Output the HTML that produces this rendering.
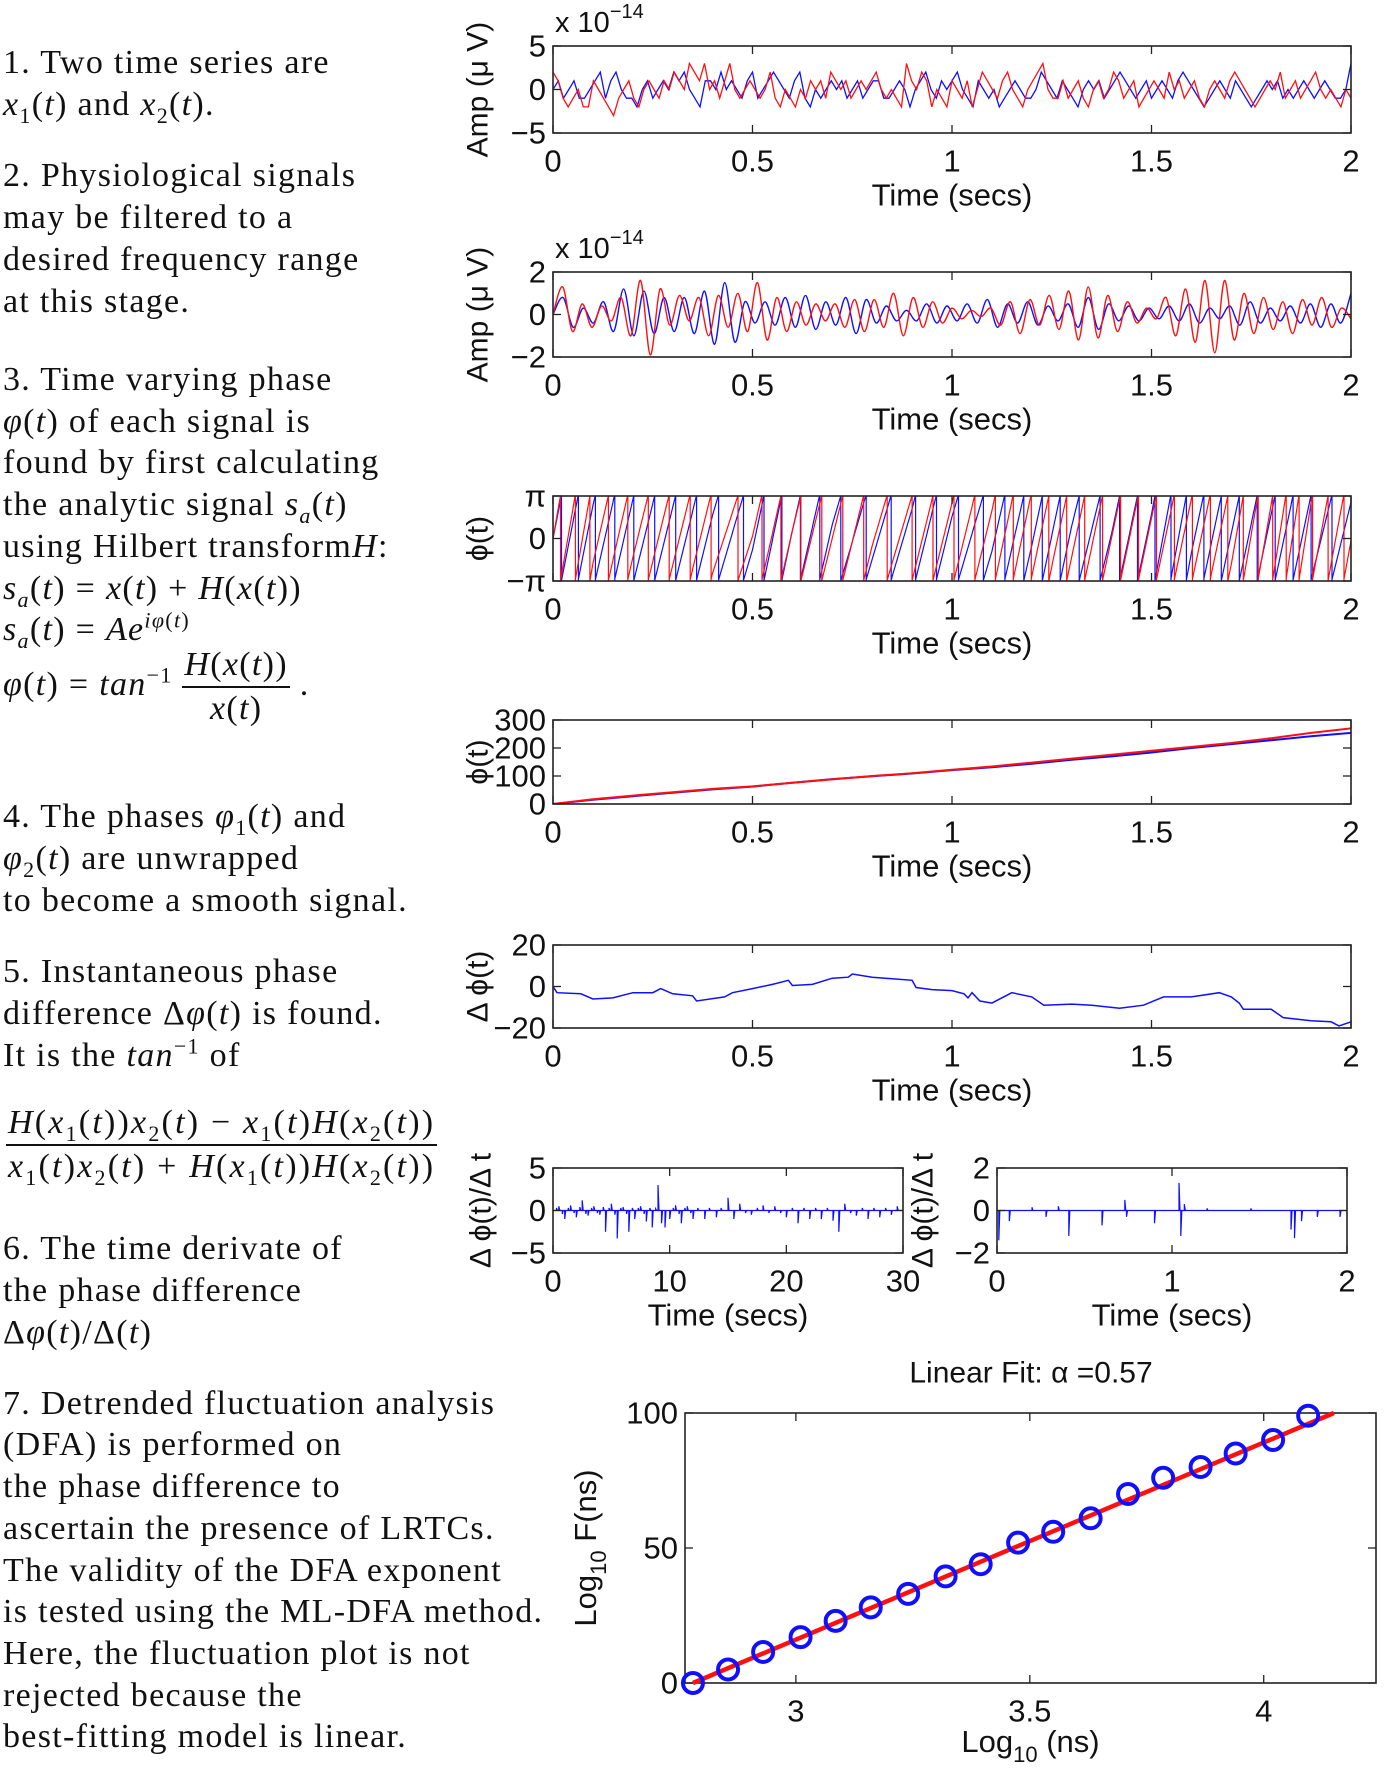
<!DOCTYPE html>
<html><head><meta charset="utf-8">
<style>
html,body{margin:0;padding:0;background:#fff;}
body{width:1384px;height:1778px;position:relative;overflow:hidden;}
.t{position:absolute;left:3px;font-family:"Liberation Serif","DejaVu Serif",serif;font-size:34px;letter-spacing:1.3px;white-space:nowrap;color:#111;line-height:1;}
.t i{font-style:italic;}
sub,sup{font-size:22px;line-height:0;}
.frac{display:inline-block;vertical-align:middle;text-align:center;}
.frac span{display:block;padding:0 2px;}
.frac .num{border-bottom:2px solid #111;padding-bottom:4px;margin-bottom:4px;}
svg{position:absolute;left:0;top:0;}
</style></head>
<body>
<div class="t" style="top:46px">1. Two time series are</div>
<div class="t" style="top:88px"><i>x</i><sub>1</sub>(<i>t</i>) and <i>x</i><sub>2</sub>(<i>t</i>).</div>
<div class="t" style="top:159px">2. Physiological signals</div>
<div class="t" style="top:201px">may be filtered to a</div>
<div class="t" style="top:243px">desired frequency range</div>
<div class="t" style="top:285px">at this stage.</div>
<div class="t" style="top:363px">3. Time varying phase</div>
<div class="t" style="top:405px"><i>φ</i>(<i>t</i>) of each signal is</div>
<div class="t" style="top:446px">found by first calculating</div>
<div class="t" style="top:488px">the analytic signal <i>s<sub>a</sub></i>(<i>t</i>)</div>
<div class="t" style="top:530px">using Hilbert transform<i>H</i>:</div>
<div class="t" style="top:572px"><i>s<sub>a</sub></i>(<i>t</i>) = <i>x</i>(<i>t</i>) + <i>H</i>(<i>x</i>(<i>t</i>))</div>
<div class="t" style="top:613px"><i>s<sub>a</sub></i>(<i>t</i>) = <i>Ae</i><sup><i>iφ</i>(<i>t</i>)</sup></div>
<div class="t" style="top:648px"><i>φ</i>(<i>t</i>) = <i>tan</i><sup>−1</sup> <span class="frac"><span class="num"><i>H</i>(<i>x</i>(<i>t</i>))</span><span><i>x</i>(<i>t</i>)</span></span> .</div>
<div class="t" style="top:800px">4. The phases <i>φ</i><sub>1</sub>(<i>t</i>) and</div>
<div class="t" style="top:842px"><i>φ</i><sub>2</sub>(<i>t</i>) are unwrapped</div>
<div class="t" style="top:884px">to become a smooth signal.</div>
<div class="t" style="top:955px">5. Instantaneous phase</div>
<div class="t" style="top:997px">difference Δ<i>φ</i>(<i>t</i>) is found.</div>
<div class="t" style="top:1039px">It is the <i>tan</i><sup>−1</sup> of</div>
<div class="t" style="top:1106px;left:6px;letter-spacing:2.2px"><span class="frac"><span class="num"><i>H</i>(<i>x</i><sub>1</sub>(<i>t</i>))<i>x</i><sub>2</sub>(<i>t</i>) − <i>x</i><sub>1</sub>(<i>t</i>)<i>H</i>(<i>x</i><sub>2</sub>(<i>t</i>))</span><span><i>x</i><sub>1</sub>(<i>t</i>)<i>x</i><sub>2</sub>(<i>t</i>) + <i>H</i>(<i>x</i><sub>1</sub>(<i>t</i>))<i>H</i>(<i>x</i><sub>2</sub>(<i>t</i>))</span></span></div>
<div class="t" style="top:1232px">6. The time derivate of</div>
<div class="t" style="top:1274px">the phase difference</div>
<div class="t" style="top:1316px">Δ<i>φ</i>(<i>t</i>)/Δ(<i>t</i>)</div>
<div class="t" style="top:1387px">7. Detrended fluctuation analysis</div>
<div class="t" style="top:1428px">(DFA) is performed on</div>
<div class="t" style="top:1470px">the phase difference to</div>
<div class="t" style="top:1512px">ascertain the presence of LRTCs.</div>
<div class="t" style="top:1554px">The validity of the DFA exponent</div>
<div class="t" style="top:1595px">is tested using the ML-DFA method.</div>
<div class="t" style="top:1637px">Here, the fluctuation plot is not</div>
<div class="t" style="top:1679px">rejected because the</div>
<div class="t" style="top:1720px">best-fitting model is linear.</div>

<svg id="chart" width="1384" height="1778" xmlns="http://www.w3.org/2000/svg"></svg>

<script>
// ---- panel 1: raw signals (x1e-14)
const rawRed = [2,1,-1,-2,-1,0,-2,-2,1,0,-1,-2,-3,-1,0,1,-1,-2,0,1,0,-1,1,0,2,1,0,3,2,1,3,0,1,-1,1,3,0,-1,0,1,0,-1,0,2,-1,-2,0,-1,-2,0,-1,1,0,1,-1,2,1,0,1,-1,0,1,0,1,2,0,-1,0,-1,-2,3,1,0,2,1,-2,0,-1,-2,1,0,-1,1,-2,0,2,1,0,-1,1,2,0,-1,-2,0,1,2,3,0,-1,-1,1,-1,0,1,-1,-2,0,1,-1,0,2,1,-1,0,1,-2,-1,0,1,0,-1,2,0,1,-1,0,1,-1,-2,0,1,0,-1,1,2,1,0,-1,-2,-1,0,1,0,2,-1,0,1,-1,0,1,2,0,-1,0,-1,-2,0,-1];
const rawBlue = [0,1,-1,0,1,-1,-1,0,1,2,-1,1,2,0,-1,-1,-2,0,1,-1,0,1,0,2,1,2,0,-1,-2,1,1,0,2,0,1,0,-1,1,2,-1,0,1,2,1,0,-1,1,2,-1,-2,0,-1,0,1,0,1,-1,0,1,-1,0,1,1,-1,-1,0,1,0,-2,0,1,2,0,-1,1,0,1,2,0,-1,-2,1,0,-1,0,-2,-1,0,1,0,-1,-1,0,2,1,0,-1,1,0,-1,-2,0,1,0,1,-1,0,1,2,1,0,-1,0,1,-1,0,1,0,-1,1,2,1,0,-1,-2,-1,0,1,0,-1,1,0,-1,-2,-1,0,1,0,1,-1,0,-1,0,1,0,-1,0,1,0,-1,-1,0,3];
// ---- panel 2: filtered signal extrema (x1e-14)
const filtRed = [0,1.3,-0.8,0.5,-0.6,0.4,-0.3,0.8,-1,1.6,-1.9,1.2,-0.5,0.9,-0.3,0.8,-1,0.9,-0.6,1,-0.8,1.5,-1.2,0.8,-0.8,0.6,-0.5,0.5,-0.3,0.5,-0.6,0.7,-0.8,0.7,-0.6,1,-1,0.8,-0.6,0.6,-0.4,0.3,-0.2,0.2,-0.1,0.3,-0.5,0.6,-0.9,0.7,-0.5,0.9,-0.7,1.1,-1.2,1.3,-1.1,0.9,-0.8,0.6,-0.4,0.3,-0.2,0.8,-1,1.2,-1.3,1.6,-1.8,1.6,-1.2,1.0,-0.9,0.8,-0.7,0.6,-0.9,0.7,-0.5,0.8,-0.6,0.3,-0.2];
const filtBlue = [0,0.8,-0.6,0.3,-0.4,0.6,-0.8,1.2,-1,1.1,-0.9,0.8,-0.8,0.8,-0.9,1.1,-1.4,1.5,-1.3,0.6,-0.4,0.6,-0.5,0.8,-0.6,0.9,-0.7,0.6,-0.5,0.8,-0.9,0.7,-0.4,0.4,-0.3,0.2,-0.3,0.5,-0.4,0.4,-0.3,0.5,-0.4,0.7,-0.6,0.5,-0.4,0.6,-0.5,0.4,-0.3,0.5,-0.6,0.8,-0.7,0.5,-0.3,0.4,-0.3,0.3,-0.2,0.4,-0.3,0.5,-0.4,0.3,-0.2,0.4,-0.5,0.6,-0.4,0.3,-0.3,0.4,-0.4,0.5,-0.6,0.5,-0.4,1.0];
// ---- panel 4: unwrapped phase at 0.1 s steps
const phaseTimes = [0,0.1,0.2,0.3,0.4,0.5,0.6,0.7,0.8,0.9,1.0,1.1,1.2,1.3,1.4,1.5,1.6,1.7,1.8,1.9,2.0];
const phaseRed = [0,17,30,42,54,63,76,88,100,110,122,134,148,162,176,190,204,218,235,254,270];
const phaseBlue = [0,15,28,40,52,62,76,89,99,109,121,131,144,158,170,184,200,214,228,242,254];
// ---- panel 5: phase difference
const dTimes = [0,0.01,0.07,0.1,0.15,0.2,0.25,0.27,0.3,0.35,0.36,0.43,0.45,0.5,0.55,0.59,0.6,0.65,0.7,0.74,0.75,0.8,0.9,0.91,0.95,1.0,1.03,1.04,1.05,1.07,1.1,1.15,1.2,1.23,1.3,1.35,1.42,1.48,1.53,1.6,1.67,1.7,1.72,1.73,1.8,1.83,1.9,1.95,1.97,2.0];
const dValues = [0,-3,-3.5,-6,-5.5,-3,-3,-1,-3.5,-4.5,-7,-5,-3,-1,1,3,0.5,1,4,4.5,6,4.5,3,-0.5,-1.5,-2,-3.5,-5.5,-3,-7,-8,-3,-5,-9,-8.5,-9,-10.5,-9,-5,-5,-3,-5,-8,-11,-11,-15,-16.5,-17,-19,-17];
// ---- panel 6a: derivative spikes (0-30 s)
const spikeTimesA = [0.3,0.5,0.8,1,1.3,1.5,1.8,2,2.3,2.5,2.8,3,3.3,3.5,3.8,4,4.3,4.5,4.8,5,5.3,5.5,5.8,6,6.3,6.5,6.8,7,7.3,7.5,7.8,8,8.3,8.5,8.8,9,9.3,9.6,10,10.3,10.5,10.8,11,11.3,11.5,11.8,12,12.4,13,13.4,14,14.4,15,15.5,16,16.5,17,17.5,18,18.5,19,19.5,20,20.5,21,21.5,22,22.5,23,23.5,24,24.5,25,25.5,26,26.5,27,27.5,28,28.5,29,29.5];
const spikeValsA = [0.3,0.5,-0.4,-1,0.3,0.6,-0.3,-0.8,0.4,1.2,-0.4,-0.6,0.3,0.5,-0.3,-0.5,0.4,-2.5,0.3,0.8,-0.5,-3.3,0.3,0.4,-0.4,-2.5,0.3,-1,0.3,0.5,-0.4,-1.3,0.3,-2,0.2,3,-1.5,-2,-1,0.3,0.6,-0.4,-1.5,0.3,0.5,-0.3,-1,0.3,-1,0.3,-0.8,0.3,1.5,-1,0.8,-0.3,-0.5,0.3,0.6,-0.3,0.5,-0.3,-0.8,0.3,-1.5,0.3,-1,0.3,-1,0.3,-1.2,-2.5,0.8,-0.3,-0.6,0.3,-1,0.3,-0.8,0.3,-0.5,0.5];
// ---- panel 6b: derivative spikes (0-2 s)
const spikeTimesB = [0.01,0.07,0.2,0.28,0.35,0.41,0.6,0.73,0.74,0.9,1.04,1.05,1.07,1.2,1.45,1.68,1.7,1.74,1.83,1.96];
const spikeValsB = [-1.4,-0.5,0.15,-0.3,0.2,-1.2,-0.7,0.5,-0.3,-0.6,1.3,-1.2,0.3,0.1,0.1,-0.9,-1.3,-0.5,-0.3,-0.3];
// ---- panel 7: DFA
const dfaX = [2.78,2.855,2.93,3.01,3.085,3.16,3.24,3.32,3.395,3.475,3.55,3.63,3.71,3.785,3.865,3.94,4.02,4.095];
const dfaY = [0,5,11.5,17,23,28,33,39.5,44,52,56,61,70,76,80,85,90,99];
const fitX = [2.78,4.15];
const fitY = [0,100];

const NS='http://www.w3.org/2000/svg';
const svg=document.getElementById('chart');
function el(tag,attrs,parent){const e=document.createElementNS(NS,tag);for(const k in attrs)e.setAttribute(k,attrs[k]);(parent||svg).appendChild(e);return e;}
function txt(s,x,y,size,anchor,parent,extra){const e=el('text',Object.assign({x:x,y:y,'font-size':size,'text-anchor':anchor||'middle','font-family':'Liberation Sans, DejaVu Sans, sans-serif',fill:'#111','dominant-baseline':'central'},extra||{}),parent);e.textContent=s;return e;}

function makeAxes(name,L,R,T,B,xmin,xmax,ymin,ymax,xticks,xlabels,yticks,ylabels,ylab,ylabX){
  const g=el('g',{});
  
  
  const sx=v=>L+(v-xmin)/(xmax-xmin)*(R-L);
  const sy=v=>B-(v-ymin)/(ymax-ymin)*(B-T);
  const clipId=name+'-clip';
  const cp=el('clipPath',{id:clipId},g);el('rect',{x:L,y:T,width:R-L,height:B-T},cp);
  const plot=el('g',{'clip-path':'url(#'+clipId+')'},g);
  const axis=el('g',{},g);
  
  
  xticks.forEach((v,i)=>{const x=sx(v);
    el('line',{x1:x,x2:x,y1:B,y2:B-8,stroke:'#222','stroke-width':1.3},axis);
    el('line',{x1:x,x2:x,y1:T,y2:T+8,stroke:'#222','stroke-width':1.3},axis);
    const t=txt(xlabels[i],x,B+28,31,'middle',axis);
    
    
  });
  yticks.forEach((v,i)=>{const y=sy(v);
    el('line',{x1:L,x2:L+8,y1:y,y2:y,stroke:'#222','stroke-width':1.3},axis);
    el('line',{x1:R,x2:R-8,y1:y,y2:y,stroke:'#222','stroke-width':1.3},axis);
    const t=txt(ylabels[i],L-7,y,31,'end',axis);
    
    
  });
  const yl=txt(ylab,ylabX,(T+B)/2,30,'middle',axis,{transform:'rotate(-90 '+ylabX+' '+((T+B)/2)+')'});
  
  
  const fr=el('rect',{x:L,y:T,width:R-L,height:B-T,fill:'none',stroke:'#222','stroke-width':1.6},axis);
  
  
  return {g,plot,sx,sy,L,R,T,B};
}
function xlabel(a,s,name){const t=txt(s,(a.L+a.R)/2,a.B+62,31,'middle',a.g);}
function exponent(a,name){const t=el('text',{x:a.L+2,y:a.T-14,'font-size':29,'font-family':'Liberation Sans, sans-serif',fill:'#111'},a.g);t.textContent='x 10';const s=el('tspan',{dy:-14,'font-size':20},t);s.textContent='−14';}
function poly(a,pts,color,name,w){const p=el('polyline',{points:pts.map(q=>q[0].toFixed(1)+','+q[1].toFixed(1)).join(' '),fill:'none',stroke:color,'stroke-width':w||1.4},a.plot);return p;}
function smooth(a,vals,xmax,color,name){
  const n=vals.length;const pts=vals.map((v,i)=>[a.sx(i/(n-1)*xmax),a.sy(v)]);
  let d='M'+pts[0][0]+','+pts[0][1];
  for(let i=0;i<n-1;i++){const p0=pts[Math.max(0,i-1)],p1=pts[i],p2=pts[i+1],p3=pts[Math.min(n-1,i+2)];
    const c1=[p1[0]+(p2[0]-p0[0])/6,p1[1]+(p2[1]-p0[1])/6],c2=[p2[0]-(p3[0]-p1[0])/6,p2[1]-(p3[1]-p1[1])/6];
    d+=' C'+c1[0].toFixed(1)+','+c1[1].toFixed(1)+' '+c2[0].toFixed(1)+','+c2[1].toFixed(1)+' '+p2[0].toFixed(1)+','+p2[1].toFixed(1);}
  const p=el('path',{d:d,fill:'none',stroke:color,'stroke-width':1.4},a.plot);
  
}
const tX=[0,0.5,1,1.5,2],tL=['0','0.5','1','1.5','2'];

// Panel 1
const a1=makeAxes('raw-signal-panel',553,1351,46,133,0,2,-5,5,tX,tL,[-5,0,5],['−5','0','5'],'Amp (μ V)',478);
exponent(a1,'raw-exponent-label');xlabel(a1,'Time (secs)','raw-x-axis-title');
poly(a1,rawBlue.map((v,i)=>[a1.sx(i/(rawBlue.length-1)*2),a1.sy(v)]),'#1010ff','raw-series-x2',1.3);
poly(a1,rawRed.map((v,i)=>[a1.sx(i/(rawRed.length-1)*2),a1.sy(v)]),'#ff1010','raw-series-x1',1.3);

// Panel 2
const a2=makeAxes('filtered-signal-panel',553,1351,272,357,0,2,-2,2,tX,tL,[-2,0,2],['−2','0','2'],'Amp (μ V)',478);
exponent(a2,'filtered-exponent-label');xlabel(a2,'Time (secs)','filtered-x-axis-title');
smooth(a2,filtBlue,2,'#1010ff','filtered-series-x2');
smooth(a2,filtRed,2,'#ff1010','filtered-series-x1');

// Panel 3 (wrapped phase derived from panel 4 data)
const a3=makeAxes('wrapped-phase-panel',553,1351,496,581,0,2,-Math.PI,Math.PI,tX,tL,[-Math.PI,0,Math.PI],['−π','0','π'],'ϕ(t)',478);
xlabel(a3,'Time (secs)','wrapped-x-axis-title');
function interp(ts,vs,t){for(let i=0;i<ts.length-1;i++){if(t<=ts[i+1]){const f=(t-ts[i])/(ts[i+1]-ts[i]);return vs[i]+f*(vs[i+1]-vs[i]);}}return vs[vs.length-1];}
function wrapped(vs){const pts=[];const N=1600;for(let k=0;k<=N;k++){const t=2*k/N;let p=interp(phaseTimes,vs,t);let w=((p+Math.PI)%(2*Math.PI)+2*Math.PI)%(2*Math.PI)-Math.PI;if(pts.length&&Math.abs(w-pts[pts.length-1][2])>Math.PI){pts.push([a3.sx(t),a3.sy(Math.PI),0]);pts.push([a3.sx(t),a3.sy(-Math.PI),0]);}pts.push([a3.sx(t),a3.sy(w),w]);}return pts;}
poly(a3,wrapped(phaseBlue),'#1010ff','wrapped-phase-x2',1.2);
poly(a3,wrapped(phaseRed),'#ff1010','wrapped-phase-x1',1.2);

// Panel 4
const a4=makeAxes('unwrapped-phase-panel',553,1351,720,804,0,2,0,300,tX,tL,[0,100,200,300],['0','100','200','300'],'ϕ(t)',478);
xlabel(a4,'Time (secs)','unwrapped-x-axis-title');
poly(a4,phaseTimes.map((t,i)=>[a4.sx(t),a4.sy(phaseBlue[i])]),'#1010ff','unwrapped-phase-x2',2);
poly(a4,phaseTimes.map((t,i)=>[a4.sx(t),a4.sy(phaseRed[i])]),'#ff1010','unwrapped-phase-x1',2);

// Panel 5
const a5=makeAxes('phase-difference-panel',553,1351,945,1028,0,2,-20,20,tX,tL,[-20,0,20],['−20','0','20'],'Δ ϕ(t)',478);
xlabel(a5,'Time (secs)','phase-difference-x-axis-title');
poly(a5,dTimes.map((t,i)=>[a5.sx(t),a5.sy(dValues[i])]),'#1010ff','phase-difference-line',1.5);

// Panel 6a
const a6=makeAxes('derivative-30s-panel',553,903,1168,1253,0,30,-5,5,[0,10,20,30],['0','10','20','30'],[-5,0,5],['−5','0','5'],'Δ ϕ(t)/Δ t',481);
xlabel(a6,'Time (secs)','derivative-30s-x-axis-title');
function spikes(a,ts,vs,xmax){const pts=[[a.sx(0),a.sy(0)]];ts.forEach((t,i)=>{pts.push([a.sx(t),a.sy(0)]);pts.push([a.sx(t),a.sy(vs[i])]);pts.push([a.sx(t)+1,a.sy(0)]);});pts.push([a.sx(xmax),a.sy(0)]);return pts;}
poly(a6,spikes(a6,spikeTimesA,spikeValsA,30),'#1010ff','derivative-30s-line',1.2);

// Panel 6b
const a6b=makeAxes('derivative-2s-panel',997,1347,1168,1253,0,2,-2,2,[0,1,2],['0','1','2'],[-2,0,2],['−2','0','2'],'Δ ϕ(t)/Δ t',923);
xlabel(a6b,'Time (secs)','derivative-2s-x-axis-title');
poly(a6b,spikes(a6b,spikeTimesB,spikeValsB,2),'#1010ff','derivative-2s-line',1.2);

// Panel 7 DFA
const a7=makeAxes('dfa-panel',685,1376,1413,1683,2.763,4.24,0,100,[3,3.5,4],['3','3.5','4'],[0,50,100],['0','50','100'],'',585);
const xt=el('text',{x:(685+1376)/2,y:1752,'font-size':31,'text-anchor':'middle','font-family':'Liberation Sans, sans-serif',fill:'#111'},a7.g);
xt.textContent='Log';const xs=el('tspan',{dy:10,'font-size':22},xt);xs.textContent='10';const xs2=el('tspan',{dy:-10},xt);xs2.textContent=' (ns)';

const yt=el('text',{x:0,y:0,'font-size':31,'text-anchor':'middle','font-family':'Liberation Sans, sans-serif',fill:'#111',transform:'translate(596 1548) rotate(-90)'},a7.g);
yt.textContent='Log';const ys=el('tspan',{dy:10,'font-size':22},yt);ys.textContent='10';const ys2=el('tspan',{dy:-10},yt);ys2.textContent=' F(ns)';

const tt=txt('Linear Fit:   α =0.57',1031,1373,30,'middle',a7.g);

const fit=el('line',{x1:a7.sx(fitX[0]),y1:a7.sy(fitY[0]),x2:a7.sx(fitX[1]),y2:a7.sy(fitY[1]),stroke:'#ff1010','stroke-width':4.5},a7.g);

dfaX.forEach((x,i)=>{const c=el('circle',{cx:a7.sx(x),cy:a7.sy(dfaY[i]),r:10,fill:'none',stroke:'#1010ff','stroke-width':4},a7.g);
  
  });
</script>
</body></html>
